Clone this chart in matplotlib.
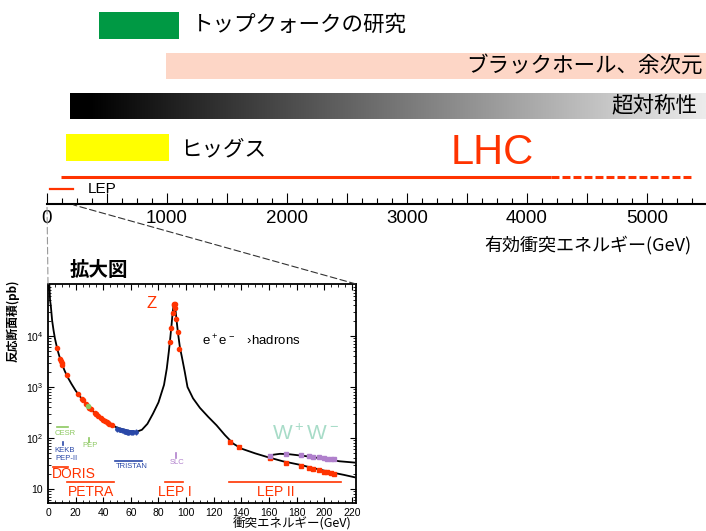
import numpy as np
import matplotlib.pyplot as plt
from matplotlib.colors import LinearSegmentedColormap
from matplotlib.patches import ConnectionPatch

plt.rcParams['font.family'] = ['Noto Sans CJK JP', 'DejaVu Sans']
plt.rcParams['mathtext.fontset'] = 'custom'
plt.rcParams['mathtext.rm'] = 'Liberation Sans'
LATIN = ['Liberation Sans', 'DejaVu Sans']

# ---- upper diagram: effective collision energy (GeV) ----
top_ticks = [0, 1000, 2000, 3000, 4000, 5000]
topic_names = ['トップクォークの研究', 'ブラックホール、余次元', 'ヒッグス']
topic_start = [433, 992, 158]
topic_end = [1100, 5490, 1017]
topic_colors = ['#009944', '#fdd6c6', '#ffff00']
susy_start, susy_end = 190, 5490
lhc_solid = [117, 4200]
lhc_dashed = [4200, 5392]
lep_range = [25, 217]

# ---- zoomed plot: e+e- -> hadrons cross section ----
curve_E = [0.8, 1, 1.5, 2, 3, 4, 5, 6, 7, 8, 10, 12, 14, 17, 20, 25, 30, 35, 40, 45,
           50, 55, 60, 64, 68, 72, 76, 80, 84, 86, 87.5, 88.5, 89.5, 90.3, 91.2, 91.8,
           92.5, 93.3, 94.2, 95.5, 97, 99, 101, 105, 110, 116, 122, 128, 134, 140,
           150, 158, 170, 182, 194, 206, 214, 222]
curve_sigma = [1.2e5, 1e5, 5e4, 4e4, 2e4, 1.3e4, 9000, 6800, 5200, 4200, 2900, 2100,
               1600, 1150, 850, 560, 390, 290, 225, 185, 160, 145, 135, 132, 145, 190,
               300, 500, 1100, 2300, 5000, 9000, 1.7e4, 3e4, 4.3e4, 4e4, 2.9e4, 1.8e4,
               1.1e4, 6000, 3800, 2000, 1000, 600, 390, 260, 178, 115, 78, 62, 50, 43,
               35, 30, 25, 21, 19, 17]
ww_curve_E = [160, 163, 168, 175, 187, 200, 211, 222]
ww_curve_sigma = [43, 47, 49, 48, 44, 39, 35, 33]

low_E = [6.6, 9.0, 9.4, 9.8, 10.4, 13.5, 22.0, 24.5, 25.0, 27.6, 30.0, 31.0, 33.8,
         34.6, 35.0, 36.0, 38.3, 39.8, 41.0, 42.5, 43.6, 44.2, 46.0]
low_sigma = [5800, 3500, 3200, 3000, 2750, 1700, 720, 580, 560, 460, 390, 370, 310,
             295, 290, 275, 245, 228, 215, 205, 195, 192, 180]
pep_E, pep_sigma = [29.0], [430]
tri_E = [50, 52, 53.3, 55, 56, 56.5, 57, 57.6, 58, 59, 60, 60.8, 61.4, 64]
tri_sigma = [152, 146, 142, 138, 136, 134, 133, 132, 131, 131, 130, 130, 131, 133]
z_E = [88.2, 89.2, 90.2, 91.0, 91.3, 91.6, 92.0, 93.0, 94.0, 95.2]
z_sigma = [7500, 1.45e4, 2.8e4, 4.1e4, 4.3e4, 4.2e4, 3.6e4, 2.2e4, 1.2e4, 5500]
lep2_E = [132, 138, 161, 172, 183, 189, 192, 196, 200, 202, 205, 207]
lep2_sigma = [84, 67, 41, 33, 28, 26, 24.5, 23.5, 22, 21.5, 20.5, 20]
wwp_E = [161, 172, 183, 189, 192, 196, 200, 202, 205, 207]
wwp_sigma = [44, 49, 46, 44, 43, 42, 40, 39.5, 38.5, 38]

RED = '#ff3300'
BLUE = '#2a48a8'
GREEN = '#8cc860'
PURPLE = '#b080cc'

# accelerator energy ranges (bars) and single energies (ticks)
bar_names = ['DORIS', 'PETRA', 'TRISTAN', 'LEP I', 'LEP II', 'CESR']
bar_lo = [3.6, 14, 48.5, 85, 131, 6.5]
bar_hi = [14.5, 48, 68, 98, 212, 14.5]
bar_sigma = [27, 13.9, 35, 13.9, 13.9, 166]
bar_colors = [RED, RED, BLUE, RED, RED, GREEN]
mark_E = [10.9, 29.7, 92.6]
mark_lo = [72, 83, 41]
mark_hi = [83, 100, 51]
mark_colors = [BLUE, GREEN, PURPLE]

label_names = ['CESR', 'PEP', 'KEKB', 'PEP-II', 'DORIS', 'PETRA', 'TRISTAN', 'SLC',
               'LEP I', 'LEP II']
label_E = [12.3, 30.4, 11.9, 13.0, 18.5, 30.8, 60.4, 93.3, 91.5, 164.6]
label_sigma = [123, 71, 56, 40, 20, 8.7, 28, 33, 8.9, 8.9]
label_colors = [GREEN, GREEN, BLUE, BLUE, RED, RED, BLUE, PURPLE, RED, RED]
label_sizes = [5.5, 5.5, 5.5, 5.5, 10, 10, 5.5, 5.5, 10, 10]

fig = plt.figure(figsize=(7.06, 5.31), dpi=100)

# background axes: x in GeV, y in pixels from the top
ax = fig.add_axes([0, 0, 1, 1])
ax.axis('off')
xl = (-47 / 0.12, (706 - 47) / 0.12)

for i in range(2):
    ax.barh([25.5, 66][i], topic_end[i] - topic_start[i], left=topic_start[i],
            height=[27, 26][i], color=topic_colors[i])
ax.barh(147.5, topic_end[2] - topic_start[2], left=topic_start[2], height=27,
        color=topic_colors[2])

cmap = LinearSegmentedColormap.from_list('g', [(0, 'black'), (0.03, 'black'), (1, '#ececec')])
ax.imshow(np.linspace(0, 1, 256)[None, :], extent=(susy_start, susy_end, 119, 93),
          cmap=cmap, aspect='auto', interpolation='bilinear')

jp = dict(fontsize=15.5, va='center')
ax.text(1208, 25, topic_names[0], ha='left', **jp)
ax.text(5467, 66, topic_names[1], ha='right', **jp)
ax.text(5417, 105, '超対称性', ha='right', **jp)
ax.text(1108, 149, topic_names[2], ha='left', **jp)

ax.plot(lhc_solid, [177, 177], color=RED, lw=2.2, solid_capstyle='butt')
ax.plot(lhc_dashed, [177, 177], color=RED, lw=2.2, linestyle=(0, (2.6, 1.0)))
ax.text(3712, 153, 'LHC', color=RED, fontsize=30, ha='center', va='center',
        family=LATIN)
ax.plot(lep_range, [189, 189], color=RED, lw=1.6)
ax.text(342, 189, 'LEP', fontsize=11, va='center', family=LATIN)
ax.text(5367, 245, '有効衝突エネルギー(GeV)', fontsize=13, ha='right', va='center')

ax.set_xlim(*xl)
ax.set_ylim(531, 0)

# energy scale axis
sc = fig.add_axes([0, (531 - 204) / 531, 1, 20 / 531])
sc.patch.set_visible(False)
for s in ['top', 'left', 'right']:
    sc.spines[s].set_visible(False)
sc.spines['bottom'].set_linewidth(1.5)
sc.spines['bottom'].set_bounds(0, xl[1])
sc.set_xlim(*xl)
sc.set_yticks([])
major = np.arange(0, 5500, 500)
sc.set_xticks(major, [str(v) if v in top_ticks else '' for v in major])
sc.set_xticks(np.arange(0, 5500, 125), minor=True)
sc.tick_params(axis='x', which='major', direction='in', length=8, width=0.8,
               pad=4, labelsize=13.5)
sc.tick_params(axis='x', which='minor', direction='in', length=4.3, width=0.8)
for t in sc.get_xticklabels():
    t.set_family(LATIN)

# zoomed inset
ins = fig.add_axes([48 / 706, (531 - 503) / 531, 308 / 706, 219 / 531])
ins.plot(curve_E, curve_sigma, color='black', lw=1.3, zorder=3)
ins.plot(ww_curve_E, ww_curve_sigma, color='black', lw=1.3, zorder=3)
ins.errorbar(low_E, low_sigma, yerr=np.array(low_sigma) * 0.06, fmt='o', ms=3,
             color=RED, elinewidth=1, capsize=0, zorder=4)
ins.errorbar(pep_E, pep_sigma, yerr=np.array(pep_sigma) * 0.06, fmt='o', ms=3,
             color=GREEN, elinewidth=1, capsize=0, zorder=4)
ins.errorbar(tri_E, tri_sigma, yerr=np.array(tri_sigma) * 0.12, fmt='o', ms=2.5,
             color=BLUE, elinewidth=1, capsize=0, zorder=4)
ins.errorbar(z_E, z_sigma, yerr=np.array(z_sigma) * 0.08, fmt='o', ms=3,
             color=RED, elinewidth=1, capsize=0, zorder=4)
ins.errorbar(lep2_E, lep2_sigma, yerr=np.array(lep2_sigma) * 0.03, fmt='s', ms=2.8,
             color=RED, elinewidth=1, capsize=0, zorder=4)
ins.errorbar(wwp_E, wwp_sigma, yerr=np.array(wwp_sigma) * 0.03, fmt='s', ms=2.8,
             color=PURPLE, elinewidth=1, capsize=0, zorder=4)

for lo, hi, s, c in zip(bar_lo, bar_hi, bar_sigma, bar_colors):
    ins.plot([lo, hi], [s, s], color=c, lw=1.2)
for e, lo, hi, c in zip(mark_E, mark_lo, mark_hi, mark_colors):
    ins.plot([e, e], [lo, hi], color=c, lw=1.2)
for n, e, s, c, fs in zip(label_names, label_E, label_sigma, label_colors, label_sizes):
    ins.text(e, s, n, color=c, fontsize=fs, ha='center', va='center', family=LATIN)

ins.text(75.3, 4.3e4, 'Z', color=RED, fontsize=12, ha='center', va='center',
         family=LATIN)
ins.text(111.4, 8e3, 'e$^+$e$^-$   ›hadrons', fontsize=9.5, ha='left', va='center',
         family=LATIN)
ins.text(186.7, 120, 'W$^+$W$^-$', color='#a8dcc8', fontsize=15, ha='center',
         va='center', family=LATIN)
ins.text(0.071, 1.06, '拡大図', transform=ins.transAxes, fontsize=14,
         fontweight='bold', va='center')

ins.set_yscale('log')
ins.set_xlim(0, 223)
ins.set_ylim(5.32, 1.046e5)
ins.set_xticks(np.arange(0, 221, 20))
ins.set_xticks(np.arange(0, 221, 5), minor=True)
ins.set_yticks([10, 100, 1000, 10000], ['10', '$10^2$', '$10^3$', '$10^4$'])
ins.tick_params(which='both', direction='in', top=True, right=True, labelsize=7.5)
ins.tick_params(which='major', length=4)
ins.tick_params(which='minor', length=2)
for t in ins.get_xticklabels() + ins.get_yticklabels():
    t.set_family(LATIN)
for s in ins.spines.values():
    s.set_linewidth(1.3)
ins.set_ylabel('反応断面積(pb)', fontsize=8.5, fontweight='bold')
ins.yaxis.set_label_coords(-0.091, 0.831)
ins.set_xlabel('衝突エネルギー(GeV)', fontsize=9)
ins.xaxis.label.set_ha('right')
ins.xaxis.label.set_va('bottom')
ins.xaxis.set_label_coords(0.987, -0.126)

# zoom guides from the energy scale down to the inset
for xa, xb, c in [(0, 0, '#999999'), (1, 223, '#333333')]:
    con = ConnectionPatch(xyA=(xa, 1), coordsA=ins.transAxes, xyB=(xb, 205),
                          coordsB=ax.transData, color=c, lw=0.8,
                          linestyle=(0, (6, 3)))
    fig.add_artist(con)

fig.savefig('out.png', dpi=100)
